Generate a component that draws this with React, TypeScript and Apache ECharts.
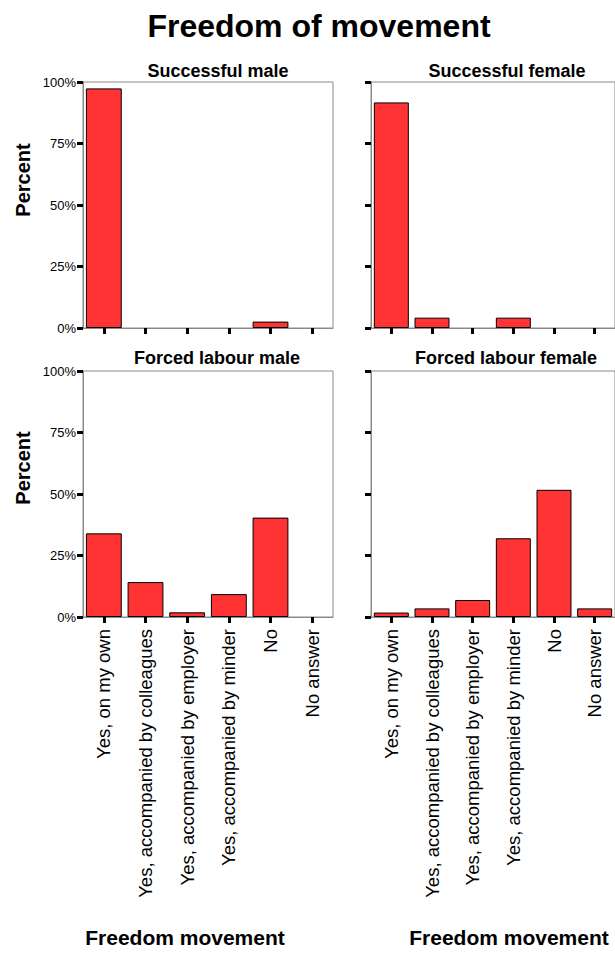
import React, { useEffect, useRef } from "react";
import * as echarts from "echarts";

const categories = [
  "Yes, on my own",
  "Yes, accompanied by colleagues",
  "Yes, accompanied by employer",
  "Yes, accompanied by minder",
  "No",
  "No answer",
];
const successfulMale = [97.4, 0, 0, 0, 2.6, 0];
const successfulFemale = [91.7, 4.2, 0, 4.2, 0, 0];
const forcedMale = [34.0, 14.2, 1.9, 9.3, 40.4, 0];
const forcedFemale = [1.8, 3.5, 6.9, 32.0, 51.7, 3.5];
const yTicks = [0, 25, 50, 75, 100];

const panelTitles = ["Successful male", "Successful female", "Forced labour male", "Forced labour female"];
const mainTitle = "Freedom of movement";
const yName = "Percent";
const xName = "Freedom movement";

const FONT = "'Liberation Sans', Arial, Helvetica, sans-serif";

export default function App() {
  const ref = useRef<HTMLDivElement>(null);
  useEffect(() => {
    if (!ref.current) return;
    const chart = echarts.init(ref.current, undefined, { renderer: "svg" });
    const grids = [
      { left: 83, top: 82, width: 250, height: 246 },
      { left: 371, top: 82, width: 250, height: 246 },
      { left: 83, top: 371, width: 250, height: 246 },
      { left: 371, top: 371, width: 250, height: 246 },
    ].map((g) => ({ ...g, show: true, borderColor: "#8a8a8a", borderWidth: 1, containLabel: false }));
    const datasets = [successfulMale, successfulFemale, forcedMale, forcedFemale];

    const xAxis = grids.map((_, i) => ({
      type: "category",
      gridIndex: i,
      data: categories,
      boundaryGap: true,
      axisLine: { show: true, lineStyle: { color: "#8a8a8a", width: 1 } },
      axisTick: { show: true, alignWithLabel: true, length: 6, lineStyle: { color: "#000", width: 3 } },
      axisLabel: {
        show: i >= 2,
        interval: 0,
        rotate: 90,
        margin: 12,
        fontSize: 18.5,
        color: "#000",
        fontFamily: FONT,
      },
    }));
    const yAxis = grids.map((_, i) => ({
      type: "value",
      gridIndex: i,
      min: 0,
      max: 100,
      interval: 25,
      splitLine: { show: false },
      axisLine: { show: true, lineStyle: { color: "#8a8a8a", width: 1 } },
      axisTick: { show: true, length: 6, lineStyle: { color: "#000", width: 3 } },
      axisLabel: {
        show: i % 2 === 0,
        margin: 7,
        fontSize: 13,
        color: "#000",
        fontFamily: FONT,
        formatter: (v: number) => (yTicks.includes(v) ? v + "%" : ""),
      },
    }));
    const series = datasets.map((d, i) => ({
      type: "bar",
      xAxisIndex: i,
      yAxisIndex: i,
      data: d.map((v) => (v === 0 ? "-" : v)),
      barCategoryGap: "14%",
      itemStyle: { color: "#ff3333", borderColor: "#000", borderWidth: 1 },
    }));

    const text = (t: string, x: number, y: number, size: number, bold: boolean, rot = 0) => ({
      type: "text",
      x,
      y,
      rotation: rot,
      style: {
        text: t,
        fontSize: size,
        fontWeight: bold ? "bold" : "normal",
        fontFamily: FONT,
        fill: "#000",
        textAlign: "center",
        textVerticalAlign: "middle",
      },
    });

    chart.setOption({
      animation: false,
      backgroundColor: "#fff",
      grid: grids,
      xAxis,
      yAxis,
      series,
      graphic: [
        text(mainTitle, 319, 26, 32, true),
        text(panelTitles[0], 218, 70.5, 18, true),
        text(panelTitles[1], 507, 70.5, 18, true),
        text(panelTitles[2], 217, 358, 18, true),
        text(panelTitles[3], 506, 358, 18, true),
        text(yName, 23, 180, 20, true, Math.PI / 2),
        text(yName, 23, 468, 20, true, Math.PI / 2),
        text(xName, 185, 937, 21, true),
        text(xName, 509, 937, 21, true),
      ],
    });
    return () => chart.dispose();
  }, []);
  return (
    <div
      ref={ref}
      style={{ position: "absolute", left: 0, top: 0, width: 615, height: 956, overflow: "hidden" }}
    />
  );
}
